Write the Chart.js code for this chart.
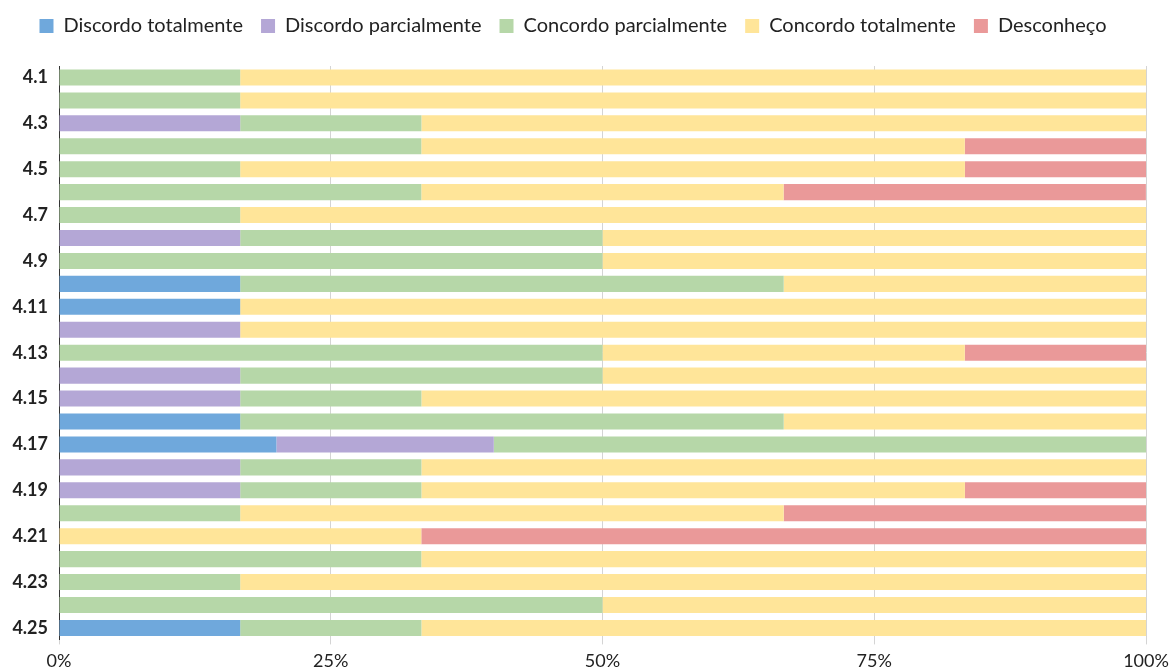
<!DOCTYPE html>
<html lang="pt">
<head>
    <meta charset="UTF-8">
    <title>Respostas 4.1 - 4.25</title>
    <script src="https://cdn.jsdelivr.net/npm/chart.js"></script>
    <style>
        body { margin: 0; background: #fff; }
        .container { width: 1173px; height: 671px; position: relative; }
    </style>
</head>
<body>
    <div class="container">
        <canvas id="likertChart"></canvas>
    </div>

    <script>
        // Questions
        const questions = ['4.1', '4.2', '4.3', '4.4', '4.5', '4.6', '4.7', '4.8', '4.9', '4.10',
            '4.11', '4.12', '4.13', '4.14', '4.15', '4.16', '4.17', '4.18', '4.19', '4.20',
            '4.21', '4.22', '4.23', '4.24', '4.25'];

        // Percent of answers per option
        const discordoTotalmente = [0, 0, 0, 0, 0, 0, 0, 0, 0, 16.67,
            16.67, 0, 0, 0, 0, 16.67, 20, 0, 0, 0,
            0, 0, 0, 0, 16.67];
        const discordoParcialmente = [0, 0, 16.67, 0, 0, 0, 0, 16.67, 0, 0,
            0, 16.67, 0, 16.67, 16.67, 0, 20, 16.67, 16.67, 0,
            0, 0, 0, 0, 0];
        const concordoParcialmente = [16.67, 16.67, 16.67, 33.33, 16.67, 33.33, 16.67, 33.33, 50, 50,
            0, 0, 50, 33.33, 16.67, 50, 60, 16.67, 16.67, 16.67,
            0, 33.33, 16.67, 50, 16.67];
        const concordoTotalmente = [83.33, 83.33, 66.67, 50, 66.67, 33.33, 83.33, 50, 50, 33.33,
            83.33, 83.33, 33.33, 50, 66.67, 33.33, 0, 66.67, 50, 50,
            33.33, 66.67, 83.33, 50, 66.67];
        const desconheco = [0, 0, 0, 16.67, 16.67, 33.33, 0, 0, 0, 0,
            0, 0, 16.67, 0, 0, 0, 0, 0, 16.67, 33.33,
            66.67, 0, 0, 0, 0];

        const xTicks = [0, 25, 50, 75, 100];

        const textColor = '#222';

        function ds(label, data, color) {
            return {
                label: label,
                data: data,
                backgroundColor: color,
                borderWidth: 0,
                barPercentage: 0.7,
                categoryPercentage: 1.0
            };
        }

        // push the plot area down a bit below the legend
        const legendGap = {
            id: 'legendGap',
            beforeInit(chart) {
                const fit = chart.legend.fit;
                chart.legend.fit = function () {
                    fit.bind(chart.legend)();
                    this.height += 20;
                };
            }
        };

        new Chart(document.getElementById('likertChart').getContext('2d'), {
            type: 'bar',
            data: {
                labels: questions,
                datasets: [
                    ds('Discordo totalmente', discordoTotalmente, '#6fa8dc'),
                    ds('Discordo parcialmente', discordoParcialmente, '#b4a7d6'),
                    ds('Concordo parcialmente', concordoParcialmente, '#b6d7a8'),
                    ds('Concordo totalmente', concordoTotalmente, '#ffe599'),
                    ds('Desconheço', desconheco, '#ea9999')
                ]
            },
            plugins: [legendGap],
            options: {
                indexAxis: 'y',
                responsive: true,
                maintainAspectRatio: false,
                animation: false,
                layout: { padding: { left: 0, right: 27, top: -2, bottom: -7 } },
                plugins: {
                    legend: {
                        position: 'top',
                        labels: {
                            boxWidth: 14,
                            boxHeight: 14,
                            padding: 18,
                            color: textColor,
                            font: { family: 'Lato', size: 20 }
                        }
                    },
                    tooltip: { enabled: false }
                },
                scales: {
                    x: {
                        stacked: true,
                        min: 0,
                        max: 100,
                        afterBuildTicks: (scale) => {
                            scale.ticks = xTicks.map(v => ({ value: v }));
                        },
                        afterFit: (scale) => { scale.paddingRight = 0; },
                        grid: {
                            color: '#d4d4d4',
                            drawTicks: true,
                            tickLength: 5
                        },
                        border: { display: false },
                        ticks: {
                            padding: 6,
                            maxRotation: 0,
                            color: textColor,
                            font: { family: 'Lato', size: 18 },
                            callback: (v) => v + '%'
                        }
                    },
                    y: {
                        stacked: true,
                        afterFit: (scale) => { scale.width = 59; },
                        grid: { display: false, drawTicks: false },
                        border: { display: true, color: '#333', width: 1 },
                        ticks: {
                            autoSkip: false,
                            padding: 11,
                            color: textColor,
                            font: { family: 'Lato', size: 18, weight: 'bold' },
                            callback: function (val, i) {
                                return i % 2 === 0 ? questions[i] : '';
                            }
                        }
                    }
                }
            }
        });
    </script>
</body>
</html>
